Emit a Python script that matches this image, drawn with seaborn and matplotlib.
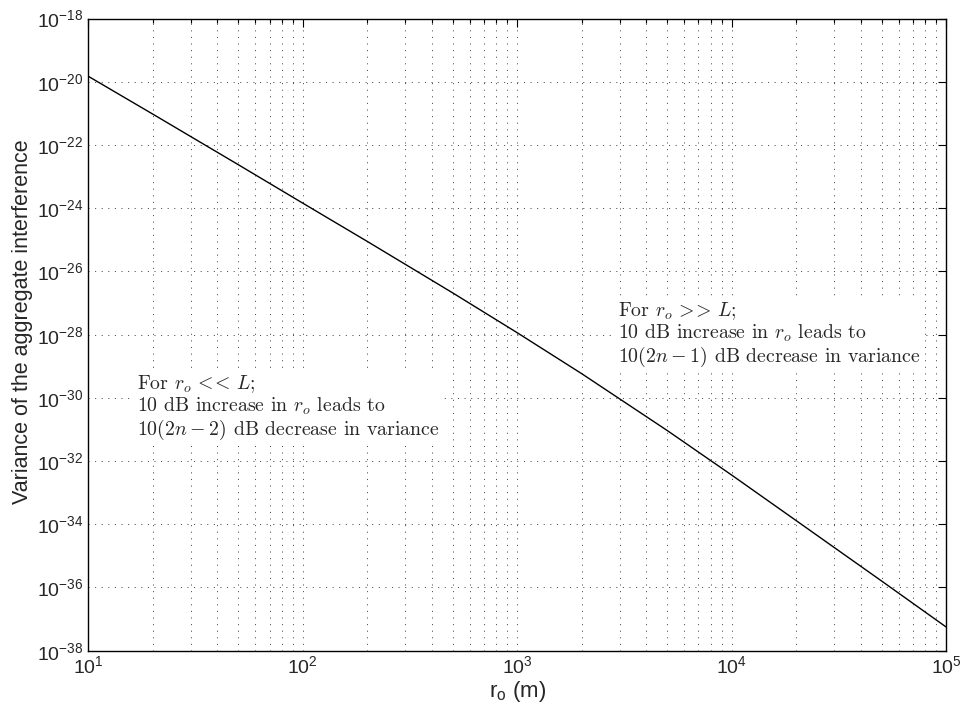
import numpy as np
import pandas as pd
import matplotlib
matplotlib.use("Agg")
import matplotlib.pyplot as plt
from matplotlib.ticker import LogLocator, LogFormatterSciNotation, NullFormatter, NullLocator
import seaborn as sns

# distance to the receiver r_o (m) and the variance of the aggregate interference
r_o = [10, 20, 50, 100, 200, 500, 1000, 2000, 5000, 10000, 20000, 50000, 100000]
variance = [1.5e-20, 9.5e-22, 2.4e-23, 1.45e-24, 8.9e-26, 2.1e-27, 1.15e-28,
            5.8e-30, 9.3e-32, 3.6e-33, 1.3e-34, 1.6e-36, 5.6e-38]

x_label = r"$\mathregular{r_o}$ (m)"
y_label = "Variance of the aggregate interference"
note_near = ("For $r_o\\,<\\!\\!<\\,L$;\n10 dB increase in $r_o$ leads to\n"
             "$10(2n-2)$ dB decrease in variance")
note_far = ("For $r_o\\,>\\!\\!>\\,L$;\n10 dB increase in $r_o$ leads to\n"
            "$10(2n-1)$ dB decrease in variance")

sns.set_style("white")
plt.rcParams["font.family"] = ["Liberation Sans", "DejaVu Sans"]
plt.rcParams["mathtext.fontset"] = "custom"
plt.rcParams["mathtext.rm"] = "Liberation Sans"
plt.rcParams["mathtext.it"] = "Liberation Sans:italic"
plt.rcParams["mathtext.sf"] = "Liberation Sans"

fig = plt.figure(figsize=(9.65, 7.17), dpi=100)
ax = fig.add_axes([0.0915, 0.0925, 0.889, 0.8815])
ax.set_xscale("log")
ax.set_yscale("log")

df = pd.DataFrame({"r_o": r_o, "variance": variance})
sns.lineplot(data=df, x="r_o", y="variance", ax=ax, color="black", linewidth=1.0)

ax.set_xlim(1e1, 1e5)
ax.set_ylim(1e-38, 1e-18)

ax.xaxis.set_major_locator(LogLocator(base=10, numticks=10))
ax.xaxis.set_minor_locator(LogLocator(base=10, subs=np.arange(2, 10), numticks=50))
ax.xaxis.set_minor_formatter(NullFormatter())
ax.yaxis.set_major_locator(LogLocator(base=100, numticks=20))
ax.yaxis.set_minor_locator(NullLocator())
ax.yaxis.set_major_formatter(LogFormatterSciNotation(base=10))

grid_style = dict(color="black", linestyle=(0, (1.5, 8)), linewidth=0.5)
ax.grid(True, which="major", axis="both", **grid_style)
ax.grid(True, which="minor", axis="x", **grid_style)

ax.tick_params(which="both", direction="in", top=True, right=True,
               labelsize=14, width=0.8, color="black")
ax.tick_params(which="major", length=6)
ax.tick_params(which="minor", length=3)
for s in ax.spines.values():
    s.set_linewidth(1.0)
    s.set_color("black")

ax.set_xlabel(x_label, fontsize=16, labelpad=1)
ax.set_ylabel(y_label, fontsize=15.5)
ax.yaxis.set_label_coords(-0.064, 0.52)

box = dict(facecolor="white", edgecolor="none", pad=2)
ax.text(0.0568, 0.384, note_near, transform=ax.transAxes, ha="left", va="center",
        fontsize=14.3, family="cmr10", math_fontfamily="cm", linespacing=1.05, bbox=box)
ax.text(0.617, 0.4995, note_far, transform=ax.transAxes, ha="left", va="center",
        fontsize=14.3, family="cmr10", math_fontfamily="cm", linespacing=1.05, bbox=box)

fig.savefig("out.png", dpi=100, facecolor="white")
